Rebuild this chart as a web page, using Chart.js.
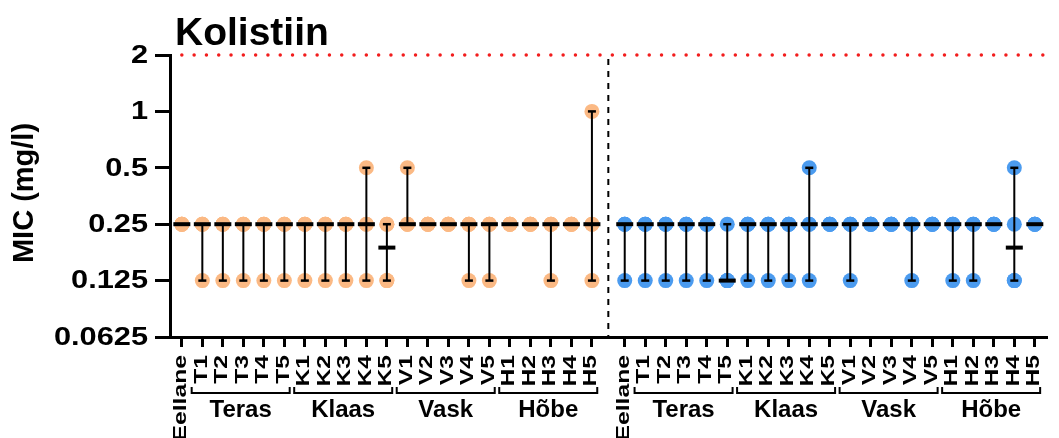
<!DOCTYPE html>
<html>
<head>
<meta charset="utf-8">
<script src="https://cdn.jsdelivr.net/npm/chart.js@4.4.1/dist/chart.umd.min.js"></script>
<style>
  html, body { margin: 0; padding: 0; background: #fff; }
</style>
</head>
<body>
<canvas id="micChart" width="1059" height="438"></canvas>
<script>
var categories = ['Eellane', 'T1', 'T2', 'T3', 'T4', 'T5', 'K1', 'K2', 'K3', 'K4', 'K5',
                  'V1', 'V2', 'V3', 'V4', 'V5', 'H1', 'H2', 'H3', 'H4', 'H5'];
var groupNames = ['Teras', 'Klaas', 'Vask', 'Hõbe'];
var groupFirst = [1, 6, 11, 16];
var groupLast = [5, 10, 15, 20];
var yTicks = [0.0625, 0.125, 0.25, 0.5, 1, 2];
var breakpoint = 2;

// replicate MIC values (mg/l) for each category, left panel
var orangeValues = [
    [0.25, 0.25, 0.25, 0.25],
    [0.125, 0.25, 0.25, 0.25],
    [0.125, 0.25, 0.25, 0.25],
    [0.125, 0.25, 0.25, 0.25],
    [0.125, 0.25, 0.25, 0.25],
    [0.125, 0.25, 0.25, 0.25],
    [0.125, 0.25, 0.25, 0.25],
    [0.125, 0.25, 0.25, 0.25],
    [0.125, 0.25, 0.25, 0.25],
    [0.125, 0.25, 0.25, 0.5],
    [0.125, 0.125, 0.25, 0.25],
    [0.25, 0.25, 0.25, 0.5],
    [0.25, 0.25, 0.25, 0.25],
    [0.25, 0.25, 0.25, 0.25],
    [0.125, 0.25, 0.25, 0.25],
    [0.125, 0.25, 0.25, 0.25],
    [0.25, 0.25, 0.25, 0.25],
    [0.25, 0.25, 0.25, 0.25],
    [0.125, 0.25, 0.25, 0.25],
    [0.25, 0.25, 0.25, 0.25],
    [0.125, 0.25, 0.25, 1]
];
var orangeMedians = [0.25, 0.25, 0.25, 0.25, 0.25, 0.25, 0.25, 0.25, 0.25, 0.25, 0.1875,
                     0.25, 0.25, 0.25, 0.25, 0.25, 0.25, 0.25, 0.25, 0.25, 0.25];

// right panel
var blueValues = [
    [0.125, 0.25, 0.25, 0.25],
    [0.125, 0.25, 0.25, 0.25],
    [0.125, 0.25, 0.25, 0.25],
    [0.125, 0.25, 0.25, 0.25],
    [0.125, 0.25, 0.25, 0.25],
    [0.125, 0.125, 0.125, 0.25],
    [0.125, 0.25, 0.25, 0.25],
    [0.125, 0.25, 0.25, 0.25],
    [0.125, 0.25, 0.25, 0.25],
    [0.125, 0.25, 0.25, 0.5],
    [0.25, 0.25, 0.25, 0.25],
    [0.125, 0.25, 0.25, 0.25],
    [0.25, 0.25, 0.25, 0.25],
    [0.25, 0.25, 0.25, 0.25],
    [0.125, 0.25, 0.25, 0.25],
    [0.25, 0.25, 0.25, 0.25],
    [0.125, 0.25, 0.25, 0.25],
    [0.125, 0.25, 0.25, 0.25],
    [0.25, 0.25, 0.25, 0.25],
    [0.125, 0.125, 0.25, 0.5],
    [0.25, 0.25, 0.25, 0.25]
];
var blueMedians = [0.25, 0.25, 0.25, 0.25, 0.25, 0.125, 0.25, 0.25, 0.25, 0.25, 0.25,
                   0.25, 0.25, 0.25, 0.25, 0.25, 0.25, 0.25, 0.25, 0.1875, 0.25];

var FONT = '"Liberation Sans", Arial, Helvetica, sans-serif';
var PANEL_OFFSET = 21.6;   // second panel shift, in category units
var X_MIN = -0.577, X_MAX = 42.17;

function posOf(panel, i) { return i + panel * PANEL_OFFSET; }
var separatorX = (posOf(0, categories.length - 1) + posOf(1, 0)) / 2;

function pointsOf(values, panel) {
    var out = [];
    values.forEach(function(reps, i) {
        reps.forEach(function(v) { out.push({x: posOf(panel, i), y: v}); });
    });
    return out;
}
function mediansOf(medians, panel) {
    return medians.map(function(m, i) { return {x: posOf(panel, i), y: m}; });
}
function rangesOf(values, panel) {
    var out = [];
    values.forEach(function(reps, i) {
        var lo = Math.min.apply(null, reps), hi = Math.max.apply(null, reps);
        if (lo < hi) {
            out.push({x: posOf(panel, i), y: lo}, {x: posOf(panel, i), y: hi}, {x: posOf(panel, i), y: null});
        }
    });
    return out;
}
function capsOf(values, panel) {
    var out = [];
    values.forEach(function(reps, i) {
        var lo = Math.min.apply(null, reps), hi = Math.max.apply(null, reps);
        if (lo < hi) {
            out.push({x: posOf(panel, i), y: lo}, {x: posOf(panel, i), y: hi});
        }
    });
    return out;
}

var allTickPositions = [];
[0, 1].forEach(function(p) {
    categories.forEach(function(c, i) { allTickPositions.push(posOf(p, i)); });
});

var axisText = {
    id: 'axisText',
    afterDraw: function(chart) {
        var ctx = chart.ctx, xs = chart.scales.x, ys = chart.scales.y;
        ctx.save();
        ctx.fillStyle = '#000';
        ctx.strokeStyle = '#000';

        // title
        ctx.font = 'bold 39px ' + FONT;
        ctx.textAlign = 'left';
        ctx.textBaseline = 'alphabetic';
        ctx.fillText('Kolistiin', 175, 45);

        // y axis title
        ctx.save();
        ctx.font = 'bold 29px ' + FONT;
        ctx.translate(25, 193);
        ctx.rotate(-Math.PI / 2);
        ctx.textAlign = 'center';
        ctx.textBaseline = 'middle';
        ctx.fillText('MIC (mg/l)', 0, 0);
        ctx.restore();

        // y tick labels
        ctx.font = 'bold 25px ' + FONT;
        ctx.textAlign = 'right';
        ctx.textBaseline = 'middle';
        yTicks.forEach(function(v) {
            ctx.save();
            ctx.translate(ys.right - 22, ys.getPixelForValue(v) + 1);
            ctx.scale(1.23, 1);
            ctx.fillText(String(v), 0, 0);
            ctx.restore();
        });

        // x tick labels, brackets and group names
        [0, 1].forEach(function(panel) {
            ctx.font = 'bold 19px ' + FONT;
            ctx.textAlign = 'right';
            ctx.textBaseline = 'middle';
            categories.forEach(function(name, i) {
                ctx.save();
                ctx.translate(xs.getPixelForValue(posOf(panel, i)) - 1, xs.top + 18);
                ctx.rotate(-Math.PI / 2);
                ctx.scale(1.3, 1);
                ctx.fillText(name, 0, 0);
                ctx.restore();
            });

            groupNames.forEach(function(g, k) {
                var x0 = xs.getPixelForValue(posOf(panel, groupFirst[k]) - 0.52);
                var x1 = xs.getPixelForValue(posOf(panel, groupLast[k]) + 0.26);
                var yb = xs.top + 56;
                ctx.beginPath();
                ctx.moveTo(x0, yb - 6);
                ctx.lineTo(x0, yb);
                ctx.lineTo(x1, yb);
                ctx.lineTo(x1, yb - 6);
                ctx.lineWidth = 2;
                ctx.stroke();
                ctx.font = 'bold 24px ' + FONT;
                ctx.textAlign = 'center';
                ctx.textBaseline = 'middle';
                ctx.fillText(g, (x0 + x1) / 2, yb + 17);
            });
        });
        ctx.restore();
    }
};

new Chart(document.getElementById('micChart'), {
    type: 'scatter',
    data: {
        datasets: [
            {
                // medians
                data: mediansOf(orangeMedians, 0).concat(mediansOf(blueMedians, 1)),
                pointStyle: 'line',
                pointRadius: 8.5,
                pointBorderWidth: 4,
                pointBorderColor: '#000',
                order: 0
            },
            {
                // range caps
                data: capsOf(orangeValues, 0).concat(capsOf(blueValues, 1)),
                pointStyle: 'line',
                pointRadius: 4,
                pointBorderWidth: 2.5,
                pointBorderColor: '#000',
                order: 1
            },
            {
                // ranges
                data: rangesOf(orangeValues, 0).concat(rangesOf(blueValues, 1)),
                showLine: true,
                spanGaps: false,
                borderColor: '#000',
                borderWidth: 2,
                pointRadius: 0,
                order: 2
            },
            {
                // panel separator
                data: [{x: separatorX, y: breakpoint}, {x: separatorX, y: yTicks[0]}],
                showLine: true,
                borderColor: '#000',
                borderWidth: 2,
                borderDash: [6, 6],
                borderDashOffset: -4,
                pointRadius: 0,
                order: 3
            },
            {
                // breakpoint line
                data: [{x: 0, y: breakpoint}, {x: X_MAX, y: breakpoint}],
                showLine: true,
                borderColor: '#f21d1d',
                borderWidth: 3.5,
                borderDash: [0, 12.3],
                borderCapStyle: 'round',
                pointRadius: 0,
                order: 4
            },
            {
                data: pointsOf(orangeValues, 0),
                pointRadius: 7.5,
                pointBackgroundColor: '#fbb984',
                pointBorderWidth: 0,
                order: 10
            },
            {
                data: pointsOf(blueValues, 1),
                pointRadius: 7.5,
                pointBackgroundColor: '#4b9bef',
                pointBorderWidth: 0,
                order: 11
            }
        ]
    },
    plugins: [axisText],
    options: {
        responsive: false,
        animation: false,
        devicePixelRatio: 1,
        clip: false,
        layout: { padding: { top: 55, left: 0, right: 0, bottom: 0 } },
        plugins: {
            legend: { display: false },
            tooltip: { enabled: false },
            title: { display: false }
        },
        elements: { line: { tension: 0 } },
        scales: {
            x: {
                type: 'linear',
                min: X_MIN,
                max: X_MAX,
                afterBuildTicks: function(scale) {
                    scale.ticks = allTickPositions.map(function(v) { return {value: v}; });
                },
                afterFit: function(scale) { scale.height = 101; },
                ticks: { display: false },
                grid: { drawOnChartArea: false, tickLength: 10, tickWidth: 3, lineWidth: 3, tickColor: '#000' },
                border: { width: 3, color: '#000' }
            },
            y: {
                type: 'logarithmic',
                min: yTicks[0],
                max: yTicks[yTicks.length - 1],
                afterBuildTicks: function(scale) {
                    scale.ticks = yTicks.map(function(v) { return {value: v}; });
                },
                afterFit: function(scale) { scale.width = 170; },
                ticks: { display: false },
                grid: { drawOnChartArea: false, tickLength: 15, tickWidth: 3, lineWidth: 3, tickColor: '#000' },
                border: { width: 3, color: '#000' }
            }
        }
    }
});
</script>
</body>
</html>
